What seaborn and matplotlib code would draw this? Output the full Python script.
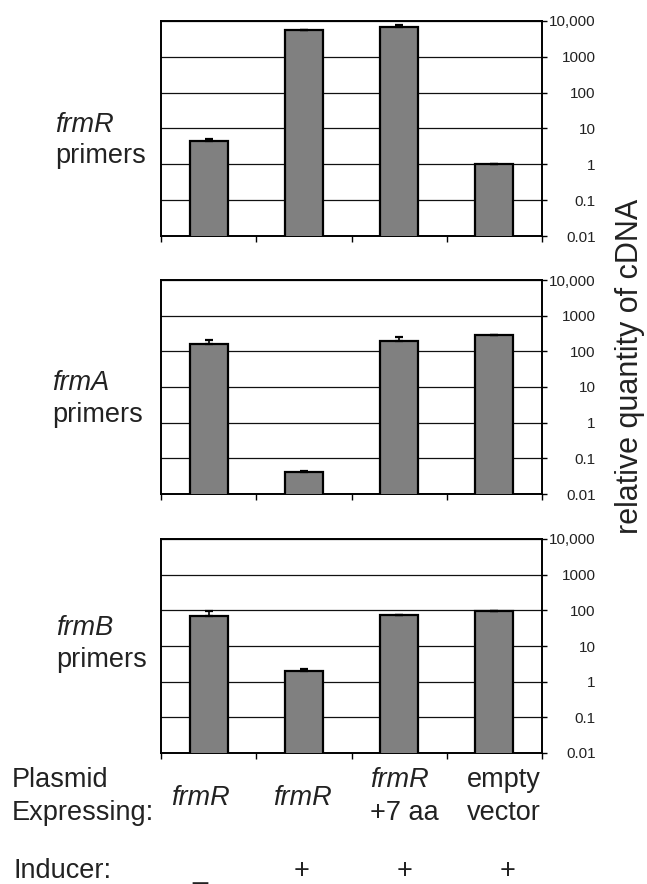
import matplotlib
matplotlib.use('Agg')
import matplotlib.pyplot as plt
import seaborn as sns
import pandas as pd

sns.set_style('white')
plt.rcParams['font.family'] = ['Liberation Sans', 'DejaVu Sans']

# data (relative quantity of cDNA, log scale)
conditions = ['c1', 'c2', 'c3', 'c4']
frmR_vals = [4.4, 5600, 7000, 1.0]
frmR_err = [0.7, 150, 500, 0.05]
frmA_vals = [158, 0.041, 200, 280]
frmA_err = [45, 0.002, 50, 10]
frmB_vals = [71, 1.94, 72, 93]
frmB_err = [25, 0.3, 3, 5]

panel_genes = ['frmR', 'frmA', 'frmB']
ytick_vals = [0.01, 0.1, 1, 10, 100, 1000, 10000]
ytick_labels = ['0.01', '0.1', '1', '10', '100', '1000', '10,000']

plasmid_top = ['', '', 'frmR', 'empty']
plasmid_bot = ['frmR', 'frmR', '+7 aa', 'vector']
inducer = ['_', '+', '+', '+']

W, H = 647, 884
fig = plt.figure(figsize=(W / 100, H / 100), dpi=100)

def fx(px):
    return px / W

def fy(py):
    return 1 - py / H

# panel geometry in pixels (top, bottom)
panels = [(21, 236), (280, 494), (539, 753)]
left_px, right_px = 161, 542
all_vals = [frmR_vals, frmA_vals, frmB_vals]
all_err = [frmR_err, frmA_err, frmB_err]
# baselines of the gene label and "primers"
label_y = [(132, 163), (390, 422), (635, 667)]
label_x = [55, 52, 56]
fs = 19.5
tc = '#222222'

for i, (top, bot) in enumerate(panels):
    ax = fig.add_axes([fx(left_px), fy(bot), fx(right_px - left_px), (bot - top) / H])
    df = pd.DataFrame({'cond': conditions, 'val': all_vals[i]})
    sns.barplot(data=df, x='cond', y='val', order=conditions, color='#808080',
                edgecolor='black', linewidth=1.6, width=0.4, saturation=1,
                errorbar=None, ax=ax, zorder=3)
    ax.errorbar(range(4), all_vals[i], yerr=[[0] * 4, all_err[i]], fmt='none',
                ecolor='black', elinewidth=1.2, capsize=3, capthick=1.6, zorder=4)
    ax.set_yscale('log')
    ax.set_ylim(0.01, 10000)
    ax.set_xlim(-0.5, 3.5)
    ax.yaxis.tick_right()
    ax.set_yticks(ytick_vals)
    ax.set_yticklabels(ytick_labels, fontsize=11, color=tc, ha='right')
    ax.yaxis.set_minor_locator(matplotlib.ticker.NullLocator())
    ax.tick_params(axis='y', which='major', direction='out', length=3.6, width=1,
                   color='black', pad=35, left=False, right=True)
    ax.set_xticks([-0.5, 0.5, 1.5, 2.5, 3.5])
    ax.set_xticklabels([])
    ax.tick_params(axis='x', direction='out', length=4, width=1, color='black', bottom=True)
    ax.yaxis.grid(True, color='#111111', linewidth=0.9)
    ax.set_axisbelow(True)
    for sp in ax.spines.values():
        sp.set_visible(True)
        sp.set_color('black')
        sp.set_linewidth(1.4)
    ax.set_xlabel('')
    ax.set_ylabel('')

    fig.text(fx(label_x[i]), fy(label_y[i][0]), panel_genes[i], fontsize=fs,
             style='italic', color=tc, ha='left', va='baseline')
    fig.text(fx(label_x[i]), fy(label_y[i][1]), 'primers', fontsize=fs,
             color=tc, ha='left', va='baseline')

# right-hand axis title
fig.text(fx(630), fy(366), 'relative quantity of cDNA', fontsize=22, rotation=90,
         color=tc, ha='center', va='center')

# bottom annotation rows
fig.text(fx(12), fy(787), 'Plasmid', fontsize=fs, color=tc, va='baseline')
fig.text(fx(12), fy(820), 'Expressing:', fontsize=fs, color=tc, va='baseline')
fig.text(fx(14), fy(878), 'Inducer:', fontsize=fs, color=tc, va='baseline')

# first two columns: single italic label, centred; last two: two left-aligned lines
single_x = [200, 302]
left_x = [370, 467]
for j in range(4):
    if plasmid_top[j]:
        lx = left_x[j - 2]
        fig.text(fx(lx), fy(787), plasmid_top[j], fontsize=fs, color=tc, ha='left',
                 va='baseline', style='italic' if plasmid_top[j] == 'frmR' else 'normal')
        fig.text(fx(lx), fy(820), plasmid_bot[j], fontsize=fs, color=tc,
                 ha='left', va='baseline')
    else:
        fig.text(fx(single_x[j]), fy(805), plasmid_bot[j], fontsize=fs, color=tc,
                 ha='center', va='baseline', style='italic')

inducer_x = [200, 302, 405, 508]
for j in range(4):
    fig.text(fx(inducer_x[j]), fy(878), inducer[j], fontsize=fs, color=tc,
             ha='center', va='baseline')

fig.savefig('out.png', dpi=100)
